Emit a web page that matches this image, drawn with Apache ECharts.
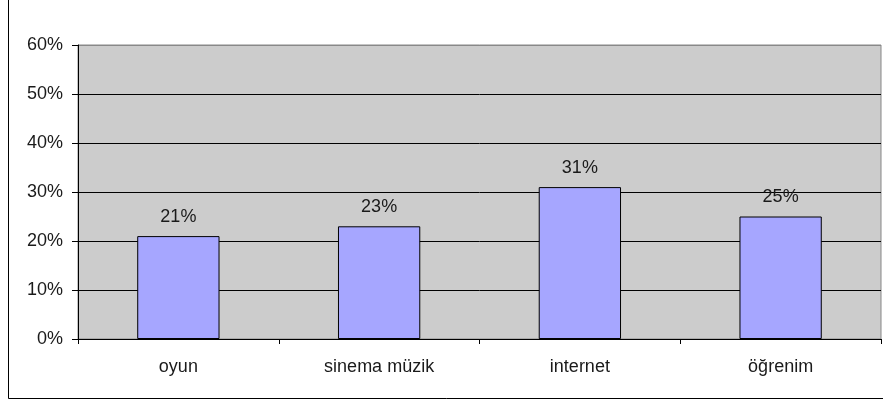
<!DOCTYPE html>
<html><head><meta charset="utf-8">
<script src="https://cdn.jsdelivr.net/npm/echarts@6/dist/echarts.min.js"></script>
<style>html,body{margin:0;padding:0;background:#fff}#c{width:883px;height:400px}</style>
</head><body><div id="c"></div>
<script>
const categories = ['oyun', 'sinema müzik', 'internet', 'öğrenim'];
const values = [21, 23, 31, 25];
const yTicks = [0, 10, 20, 30, 40, 50, 60];

const chart = echarts.init(document.getElementById('c'), null, {renderer: 'canvas'});
const font = 'Liberation Sans, Arial, sans-serif';
const txt = '#1a1a1a';
chart.setOption({
  animation: false,
  graphic: [{
    type: 'rect', shape: {x: 8.5, y: -5, width: 890, height: 403.5},
    style: {fill: 'none', stroke: '#000', lineWidth: 1}, z: 0
  }, {
    type: 'line', shape: {x1: 79, y1: 45.5, x2: 881, y2: 45.5},
    style: {stroke: '#888888', lineWidth: 1}, z: 100
  }],
  grid: {left: 78, right: 2, top: 45, bottom: 61, show: true, backgroundColor: '#cccccc', borderColor: '#888888', borderWidth: 1},
  xAxis: {
    type: 'category', data: categories,
    axisLine: {lineStyle: {color: '#000', width: 1}},
    axisTick: {show: true, alignWithLabel: false, length: 5, lineStyle: {color: '#000'}},
    axisLabel: {color: txt, fontFamily: font, fontSize: 18, margin: 19}
  },
  yAxis: {
    type: 'value', min: yTicks[0], max: yTicks[yTicks.length - 1], interval: 10,
    axisLine: {show: true, lineStyle: {color: '#000', width: 1}},
    axisTick: {show: true, length: 6, lineStyle: {color: '#000'}},
    splitLine: {lineStyle: {color: '#000', width: 1}},
    axisLabel: {color: txt, fontFamily: font, fontSize: 18, margin: 15, formatter: v => v + '%'}
  },
  series: [{
    type: 'bar', data: values, barWidth: '41%',
    itemStyle: {color: '#a6a6ff', borderColor: '#000', borderWidth: 1},
    label: {show: true, position: 'top', distance: 10, color: txt, fontFamily: font, fontSize: 18, formatter: p => p.value + '%'}
  }]
});
</script></body></html>
